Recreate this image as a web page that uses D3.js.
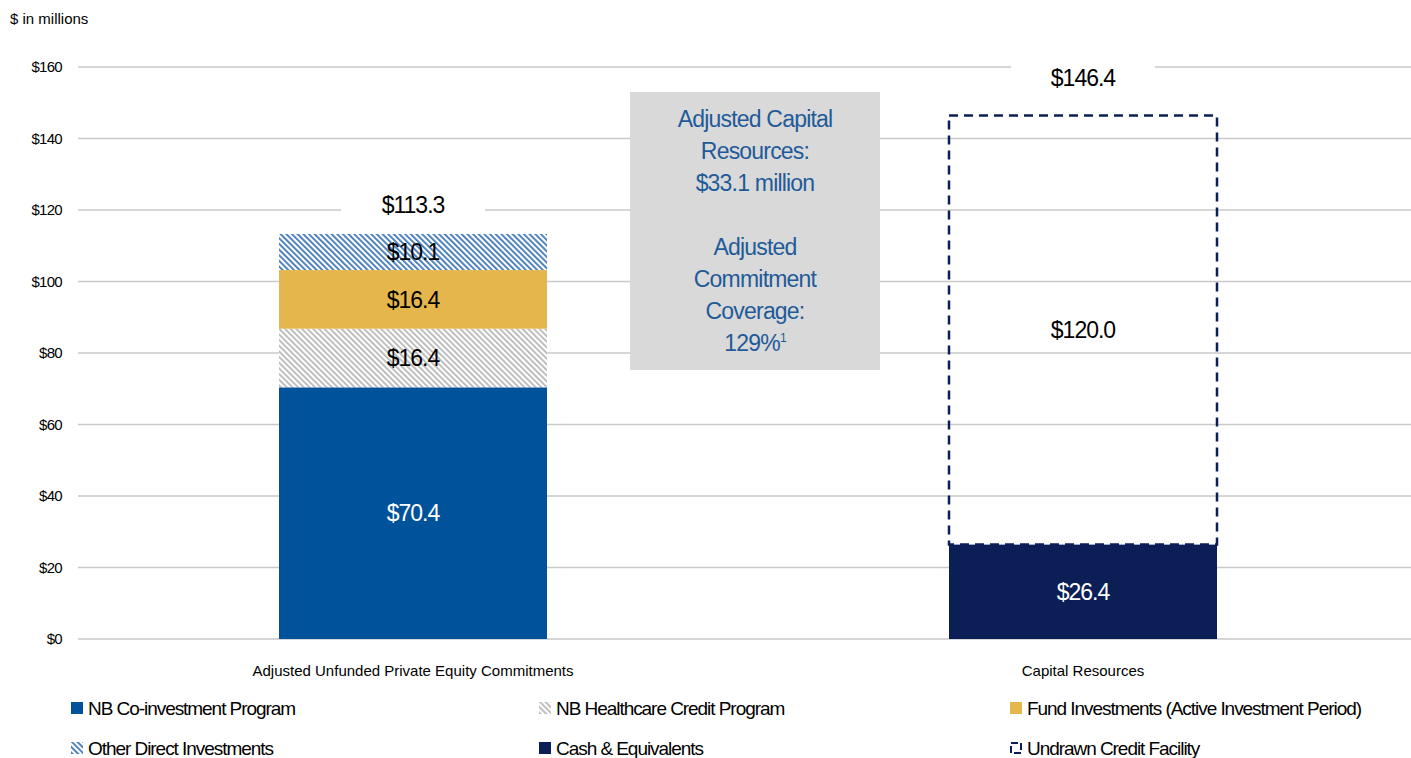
<!DOCTYPE html>
<html>
<head>
<meta charset="utf-8">
<script src="https://d3js.org/d3.v7.min.js"></script>
<style>
  body { margin: 0; background: #fff; }
  text { font-family: "Liberation Sans", Arial, sans-serif; }
</style>
</head>
<body>
<div id="chart"></div>
<script>
// ---- data ----
const categories = ["Adjusted Unfunded Private Equity Commitments", "Capital Resources"];
const seriesNames = ["NB Co-investment Program", "NB Healthcare Credit Program",
  "Fund Investments (Active Investment Period)", "Other Direct Investments",
  "Cash & Equivalents", "Undrawn Credit Facility"];
// values per category, in series order
const commitmentValues = [70.4, 16.4, 16.4, 10.1, 0, 0];
const resourceValues = [0, 0, 0, 0, 26.4, 120.0];
const totals = [113.3, 146.4];
const yTicks = [0, 20, 40, 60, 80, 100, 120, 140, 160];
const boxLines1 = ["Adjusted Capital", "Resources:", "$33.1 million"];
const boxLines2 = ["Adjusted", "Commitment", "Coverage:"];
const coverage = "129%";

const width = 1411, height = 758;
const svg = d3.select("#chart").append("svg")
  .attr("width", width).attr("height", height);

const defs = svg.append("defs");
function stripes(id, color, bg) {
  const p = defs.append("pattern")
    .attr("id", id).attr("patternUnits", "userSpaceOnUse")
    .attr("width", 4).attr("height", 4)
    .attr("patternTransform", "rotate(-45)");
  p.append("rect").attr("width", 4).attr("height", 4).attr("fill", bg);
  p.append("rect").attr("x", 0).attr("width", 1.8).attr("height", 4).attr("fill", color);
}
stripes("hatchGray", "#b8b8b8", "#ffffff");
stripes("hatchBlue", "#3f78b8", "#ffffff");

const fills = ["#00539b", "url(#hatchGray)", "#e5b64b", "url(#hatchBlue)", "#0b1f56", "none"];
const labelColors = ["#fff", "#000", "#000", "#000", "#fff", "#000"];

const x = d3.scaleBand().domain(categories).range([78, 1418])
  .paddingInner(0.6).paddingOuter(0.3);
const y = d3.scaleLinear().domain([0, 160]).range([639, 67]);

// gridlines
svg.append("g").selectAll("line").data(yTicks).join("line")
  .attr("x1", 78).attr("x2", width)
  .attr("y1", d => y(d)).attr("y2", d => y(d))
  .attr("stroke", "#c9c9c9").attr("stroke-width", 1.5);

// y axis labels
svg.append("g").selectAll("text").data(yTicks).join("text")
  .attr("x", 62).attr("y", d => y(d)).attr("dy", "0.35em")
  .attr("text-anchor", "end").attr("font-size", 15).attr("letter-spacing", -0.7)
  .text(d => "$" + d);

svg.append("text").attr("x", 10).attr("y", 24)
  .attr("font-size", 15).text("$ in millions");

// stacked bars
const rows = [commitmentValues, resourceValues];
const segs = [];
rows.forEach((vals, ci) => {
  let acc = 0;
  vals.forEach((v, si) => {
    if (v > 0) segs.push({ cat: categories[ci], si, y0: acc, y1: acc + v, v });
    acc += v;
  });
});

const bw = x.bandwidth();
svg.append("g").selectAll("rect").data(segs).join("rect")
  .attr("x", d => x(d.cat)).attr("width", bw)
  .attr("y", d => y(d.y1)).attr("height", d => y(d.y0) - y(d.y1))
  .attr("fill", d => fills[d.si])
  .attr("stroke", d => d.si === 5 ? "#0b1f56" : "none")
  .attr("stroke-width", 2.5)
  .attr("stroke-dasharray", d => d.si === 5 ? "9,6" : null);

svg.append("g").selectAll("text").data(segs).join("text")
  .attr("x", d => x(d.cat) + bw / 2)
  .attr("y", d => (y(d.y0) + y(d.y1)) / 2).attr("dy", "0.36em")
  .attr("text-anchor", "middle").attr("font-size", 23).attr("letter-spacing", -1)
  .attr("fill", d => labelColors[d.si])
  .text(d => "$" + d.v.toFixed(1));

// totals with white backing
categories.forEach((c, i) => {
  const cx = x(c) + bw / 2;
  const ty = y(totals[i]) - (i === 0 ? 29 : 38);
  svg.append("rect").attr("x", cx - 72).attr("y", ty - 16).attr("width", 144).attr("height", 32)
    .attr("fill", "#fff");
  svg.append("text").attr("x", cx).attr("y", ty).attr("dy", "0.36em")
    .attr("text-anchor", "middle").attr("font-size", 23).attr("letter-spacing", -1)
    .text("$" + totals[i].toFixed(1));
});

// category labels
svg.append("g").selectAll("text").data(categories).join("text")
  .attr("x", d => x(d) + bw / 2).attr("y", 676)
  .attr("text-anchor", "middle").attr("font-size", 15)
  .text(d => d);

// info box
const box = svg.append("g");
box.append("rect").attr("x", 630).attr("y", 92).attr("width", 250).attr("height", 278)
  .attr("fill", "#d9d9d9");
const lines = boxLines1.concat([""], boxLines2);
box.selectAll("text.l").data(lines).join("text").attr("class", "l")
  .attr("x", 755).attr("y", (d, i) => 127 + i * 32)
  .attr("text-anchor", "middle").attr("font-size", 23).attr("letter-spacing", -0.8)
  .attr("fill", "#1f5b99").text(d => d);
const cov = box.append("text").attr("x", 755).attr("y", 127 + 7 * 32)
  .attr("text-anchor", "middle").attr("font-size", 23).attr("letter-spacing", -0.8)
  .attr("fill", "#1f5b99");
cov.append("tspan").text(coverage);
cov.append("tspan").attr("font-size", 12).attr("dy", -9).text("1");

// legend
const legX = [71, 539, 1010];
const legY = [708, 748];
const legend = svg.append("g").selectAll("g").data(seriesNames).join("g")
  .attr("transform", (d, i) => `translate(${legX[i % 3]},${legY[Math.floor(i / 3)]})`);
legend.each(function(d, i) {
  const g = d3.select(this);
  if (i === 5) {
    g.append("rect").attr("x", 1).attr("y", -5).attr("width", 10).attr("height", 10)
      .attr("fill", "none").attr("stroke", "#0b1f56").attr("stroke-width", 2)
      .attr("stroke-dasharray", "7,3");
  } else {
    g.append("rect").attr("x", 0).attr("y", -6).attr("width", 12).attr("height", 12)
      .attr("fill", fills[i]);
  }
  g.append("text").attr("x", 17).attr("dy", "0.36em")
    .attr("font-size", 19).attr("letter-spacing", -1.05).text(d);
});
</script>
</body>
</html>
